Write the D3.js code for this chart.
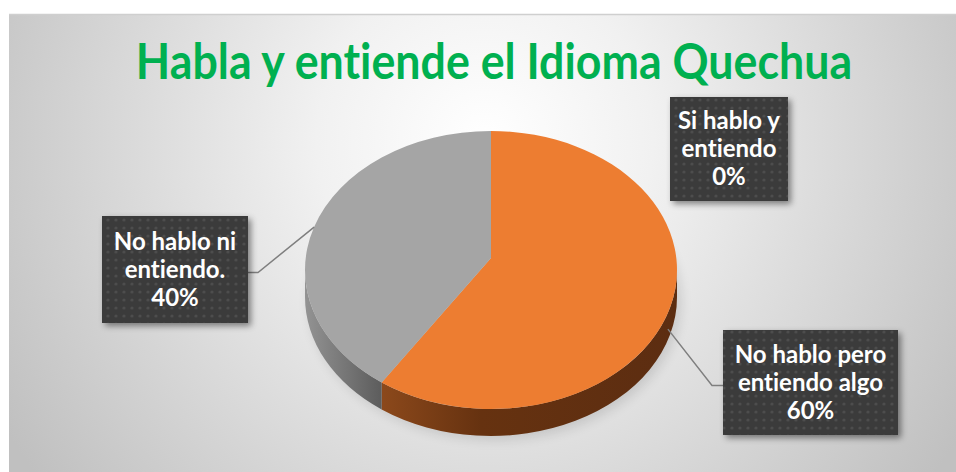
<!DOCTYPE html>
<html>
<head>
<meta charset="utf-8">
<script src="https://cdn.jsdelivr.net/npm/d3@7"></script>
<style>
body { margin: 0; background: #fff; }
svg { display: block; }
text { font-variant-ligatures: none; font-feature-settings: "liga" 0, "clig" 0; }
</style>
</head>
<body>
<div id="chart"></div>
<script>
// datos del gráfico
var titulo = "Habla y entiende el Idioma Quechua";
var categorias = ["Si hablo y entiendo", "No hablo pero entiendo algo", "No hablo ni entiendo."];
var valores = [0, 60, 40];
var lineasEtiqueta = [["Si hablo y", "entiendo"], ["No hablo pero", "entiendo algo"], ["No hablo ni", "entiendo."]];
var colores = ["#4472c4", "#ed7d31", "#a5a5a5"];

var W = 956, H = 472;
var cx = 491, cy = 270, rx = 186, ry = 139, depth = 27;
var apex = [491, 258];

var svg = d3.select("#chart").append("svg")
    .attr("width", W)
    .attr("height", H);

var defs = svg.append("defs");

// fondo con degradado radial
var bg = defs.append("radialGradient").attr("id", "bg")
    .attr("gradientUnits", "userSpaceOnUse")
    .attr("cx", 485).attr("cy", 140).attr("r", 560);
bg.append("stop").attr("offset", "0").attr("stop-color", "#ffffff");
bg.append("stop").attr("offset", "0.3").attr("stop-color", "#f1f1f1");
bg.append("stop").attr("offset", "1").attr("stop-color", "#c0c0c0");

// lateral naranja
var gNar = defs.append("linearGradient").attr("id", "ladoNaranja")
    .attr("gradientUnits", "userSpaceOnUse")
    .attr("x1", 375).attr("y1", 0).attr("x2", 677).attr("y2", 0);
gNar.append("stop").attr("offset", "0").attr("stop-color", "#8e4a1c");
gNar.append("stop").attr("offset", "0.35").attr("stop-color", "#663210");
gNar.append("stop").attr("offset", "1").attr("stop-color", "#5c2d11");

// lateral gris
var gGris = defs.append("linearGradient").attr("id", "ladoGris")
    .attr("gradientUnits", "userSpaceOnUse")
    .attr("x1", 305).attr("y1", 0).attr("x2", 382).attr("y2", 0);
gGris.append("stop").attr("offset", "0").attr("stop-color", "#939393");
gGris.append("stop").attr("offset", "1").attr("stop-color", "#5c5c5c");

// textura de las etiquetas
var pat = defs.append("pattern").attr("id", "puntos")
    .attr("patternUnits", "userSpaceOnUse")
    .attr("width", 8).attr("height", 8);
pat.append("rect").attr("width", 8).attr("height", 8).attr("fill", "#3b3b3b");
pat.append("circle").attr("cx", 4).attr("cy", 4).attr("r", 1.6).attr("fill", "#4d4d4d");

var sombra = defs.append("filter").attr("id", "sombra")
    .attr("x", "-20%").attr("y", "-20%").attr("width", "140%").attr("height", "140%");
sombra.append("feDropShadow").attr("dx", 3).attr("dy", 3).attr("stdDeviation", 3)
    .attr("flood-color", "#000").attr("flood-opacity", 0.45);

var blur = defs.append("filter").attr("id", "blur")
    .attr("x", "-20%").attr("y", "-20%").attr("width", "140%").attr("height", "140%");
blur.append("feGaussianBlur").attr("stdDeviation", 6);

// area del grafico
svg.append("rect")
    .attr("x", 9).attr("y", 14)
    .attr("width", W - 9).attr("height", H - 14)
    .attr("fill", "url(#bg)");
svg.append("line")
    .attr("x1", 9).attr("y1", 14.5).attr("x2", W).attr("y2", 14.5)
    .style("stroke", "#cfcfcf").style("stroke-width", 1.5);

// titulo (un poco estirado en vertical, como Calibri)
var t = svg.append("text")
    .attr("x", 494)
    .attr("y", 0)
    .attr("text-anchor", "middle")
    .attr("transform", "translate(0,79) scale(1,1.1)")
    .attr("font-family", "Lato, 'Open Sans', sans-serif")
    .attr("font-weight", "bold")
    .style("font-size", "40px")
    .attr("fill", "#00b050")
    .text(titulo);
var tw = t.node().getComputedTextLength();
t.style("font-size", (40 * 716 / tw) + "px");

// pastel 3D
var pie = d3.pie().sort(null).value(function(d) { return d; });
var arcos = pie(valores);

function pt(a, dy) {
    return [cx + rx * Math.sin(a), cy - ry * Math.cos(a) + (dy || 0)];
}

// sombra del pastel
svg.append("ellipse")
    .attr("cx", cx + 4).attr("cy", cy + depth + 4)
    .attr("rx", rx).attr("ry", ry)
    .attr("fill", "#000").attr("opacity", 0.12)
    .attr("filter", "url(#blur)");

var ladoFill = ["#2f5597", "url(#ladoNaranja)", "url(#ladoGris)"];

// caras laterales (solo la parte frontal)
arcos.forEach(function(d, i) {
    var s = Math.max(d.startAngle, Math.PI / 2);
    var e = Math.min(d.endAngle, 3 * Math.PI / 2);
    if (e <= s) return;
    var p0 = pt(s), p1 = pt(e), p2 = pt(e, depth), p3 = pt(s, depth);
    svg.append("path")
        .attr("d", "M" + p0 + " A" + rx + "," + ry + " 0 0 1 " + p1 +
            " L" + p2 + " A" + rx + "," + ry + " 0 0 0 " + p3 + " Z")
        .attr("fill", ladoFill[i]);
});

// caras superiores
arcos.forEach(function(d, i) {
    if (d.endAngle - d.startAngle <= 0) return;
    var p0 = pt(d.startAngle), p1 = pt(d.endAngle);
    var large = (d.endAngle - d.startAngle) > Math.PI ? 1 : 0;
    svg.append("path")
        .attr("d", "M" + apex + " L" + p0 + " A" + rx + "," + ry + " 0 " + large + " 1 " + p1 + " Z")
        .attr("fill", colores[i]);
});

// etiquetas de datos
var cajas = [
    { x: 670, y: 97, w: 118, h: 104 },
    { x: 723, y: 330, w: 175, h: 105 },
    { x: 102, y: 216, w: 146, h: 107 }
];
var total = d3.sum(valores);
var fmt = d3.format(".0%");

// lineas guia
arcos.forEach(function(d, i) {
    if (d.value === 0) return;
    var mid = (d.startAngle + d.endAngle) / 2;
    var frente = Math.cos(mid) < 0;
    var p = pt(mid, frente ? depth * 0.6 : 0);
    var c = cajas[i];
    var izquierda = p[0] < cx;
    var yb = c.y + c.h / 2 + 3;
    var xb = izquierda ? c.x + c.w : c.x;
    var xc = izquierda ? xb + 10 : xb - 11;
    svg.append("polyline")
        .attr("points", [[xb, yb], [xc, yb], p].join(" "))
        .attr("fill", "none")
        .style("stroke", "#7f7f7f")
        .style("stroke-width", 1.5);
});

arcos.forEach(function(d, i) {
    var c = cajas[i];
    svg.append("rect")
        .attr("x", c.x).attr("y", c.y)
        .attr("width", c.w).attr("height", c.h)
        .attr("fill", "url(#puntos)")
        .attr("filter", "url(#sombra)");
    var lineas = lineasEtiqueta[i].concat([fmt(d.value / total)]);
    var lh = 28;
    var y0 = c.y + c.h / 2 - lh + 8;
    lineas.forEach(function(l, k) {
        svg.append("text")
            .attr("x", c.x + c.w / 2)
            .attr("y", y0 + k * lh)
            .attr("text-anchor", "middle")
            .attr("font-family", "Lato, 'Open Sans', sans-serif")
            .attr("font-weight", "bold")
            .style("font-size", "24px")
            .attr("fill", "#ffffff")
            .text(l);
    });
});
</script>
</body>
</html>
